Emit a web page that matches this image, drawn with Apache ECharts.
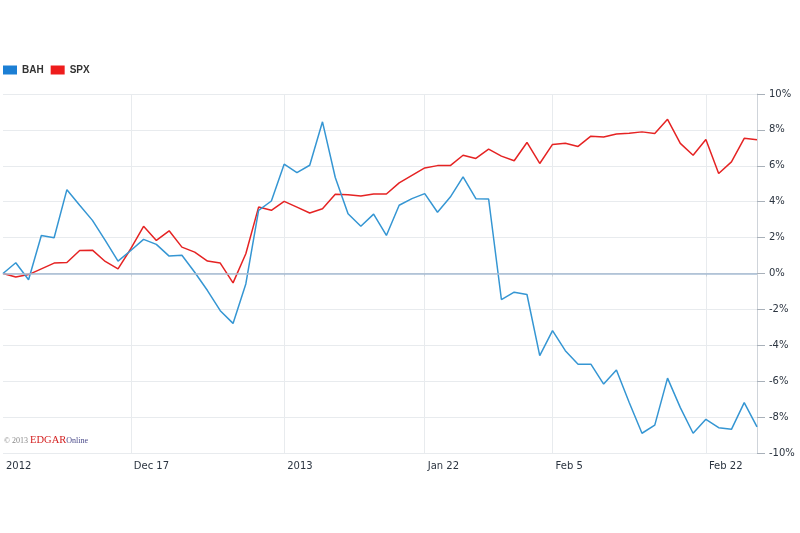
<!DOCTYPE html>
<html>
<head>
<meta charset="utf-8">
<script src="https://cdn.jsdelivr.net/npm/echarts@6/dist/echarts.min.js"></script>
<style>
html,body{margin:0;padding:0;background:#fff;}
#chart{width:800px;height:533px;}
</style>
</head>
<body>
<div id="chart"></div>
<script>
const dates = [
  'Dec 3','Dec 4','Dec 5','Dec 6','Dec 7','Dec 10','Dec 11','Dec 12','Dec 13','Dec 14',
  'Dec 17','Dec 18','Dec 19','Dec 20','Dec 21','Dec 24','Dec 26','Dec 27','Dec 28','Dec 31',
  'Jan 2','Jan 3','Jan 4','Jan 7','Jan 8','Jan 9','Jan 10','Jan 11','Jan 14','Jan 15',
  'Jan 16','Jan 17','Jan 18','Jan 22','Jan 23','Jan 24','Jan 25','Jan 28','Jan 29','Jan 30',
  'Jan 31','Feb 1','Feb 4','Feb 5','Feb 6','Feb 7','Feb 8','Feb 11','Feb 12','Feb 13',
  'Feb 14','Feb 15','Feb 19','Feb 20','Feb 21','Feb 22','Feb 25','Feb 26','Feb 27','Feb 28'
];
const bahValues = [
  0.0, 0.60, -0.35, 2.12, 1.99, 4.67, 3.80, 2.96, 1.84, 0.69,
  1.28, 1.90, 1.62, 0.97, 1.02, 0.07, -0.95, -2.07, -2.78, -0.58,
  3.52, 4.04, 6.09, 5.62, 6.03, 8.45, 5.35, 3.33, 2.63, 3.31,
  2.12, 3.80, 4.17, 4.45, 3.41, 4.26, 5.38, 4.17, 4.15, -1.45,
  -1.04, -1.17, -4.58, -3.18, -4.30, -5.05, -5.05, -6.16, -5.38, -7.19,
  -8.90, -8.45, -5.83, -7.47, -8.90, -8.12, -8.59, -8.68, -7.19, -8.55
];
const spxValues = [
  0.0, -0.20, -0.06, 0.26, 0.58, 0.61, 1.28, 1.30, 0.67, 0.26,
  1.38, 2.63, 1.84, 2.38, 1.47, 1.19, 0.69, 0.58, -0.52, 1.10,
  3.70, 3.52, 4.02, 3.70, 3.37, 3.61, 4.41, 4.39, 4.32, 4.43,
  4.43, 5.05, 5.47, 5.88, 6.01, 6.01, 6.59, 6.41, 6.93, 6.54,
  6.28, 7.30, 6.13, 7.19, 7.26, 7.08, 7.65, 7.60, 7.77, 7.82,
  7.89, 7.80, 8.59, 7.25, 6.59, 7.47, 5.57, 6.22, 7.53, 7.45
];
const tickIndex = [0, 10, 22, 33, 43, 55];
const tickText = ['2012', 'Dec 17', '2013', 'Jan 22', 'Feb 5', 'Feb 22'];
const yMin = -10, yMax = 10, yStep = 2;

const FONT = 'DejaVu Sans';
const chart = echarts.init(document.getElementById('chart'), null, {renderer: 'canvas'});
const isTick = i => tickIndex.indexOf(i) >= 0;

chart.setOption({
  animation: false,
  backgroundColor: '#ffffff',
  grid: {left: 3, right: 43, top: 94, bottom: 80, containLabel: false},
  legend: {
    left: 3, top: 65, padding: 0,
    itemWidth: 14, itemHeight: 9, itemGap: 7, icon: 'rect',
    textStyle: {fontFamily: 'Liberation Sans', fontWeight: 'bold', fontSize: 10, color: '#333'},
    data: [
      {name: 'BAH', itemStyle: {color: '#1c7fd4'}},
      {name: 'SPX', itemStyle: {color: '#ee1c1c'}}
    ]
  },
  xAxis: {
    type: 'category',
    data: dates,
    boundaryGap: false,
    axisLine: {show: true, lineStyle: {color: '#cfd4da', width: 1}},
    axisTick: {show: true, length: 3, interval: i => isTick(i) && i > 0, lineStyle: {color: '#cfd4da'}},
    axisLabel: {
      interval: i => isTick(i),
      formatter: (v, i) => tickText[tickIndex.indexOf(i)],
      align: 'left', padding: [0, 0, 0, 3], margin: 8,
      fontFamily: FONT, fontSize: 10, color: '#2b3440'
    },
    splitLine: {show: true, interval: i => isTick(i) && i > 0, lineStyle: {color: '#e8ebee', width: 1}}
  },
  yAxis: {
    type: 'value', position: 'right', min: yMin, max: yMax, interval: yStep,
    axisLine: {show: true, lineStyle: {color: '#cfd4da'}},
    axisTick: {show: true, length: 8, lineStyle: {color: '#a8b0b9'}},
    axisLabel: {show: true, margin: 12, formatter: v => v + '%', fontFamily: FONT, fontSize: 10, color: '#2b3440'},
    splitLine: {show: true, lineStyle: {color: '#e8ebee', width: 1}}
  },
  series: [
    {
      name: 'BAH', type: 'line', data: bahValues,
      symbol: 'none', lineStyle: {color: '#3596d3', width: 1.5},
      itemStyle: {color: '#3596d3'},
      markLine: {
        silent: true, symbol: 'none', label: {show: false},
        lineStyle: {color: '#a9bed4', width: 1.5, type: 'solid'},
        data: [{yAxis: 0}]
      },
      z: 3
    },
    {
      name: 'SPX', type: 'line', data: spxValues,
      symbol: 'none', lineStyle: {color: '#e52323', width: 1.5},
      itemStyle: {color: '#e52323'},
      z: 2
    }
  ],
  graphic: [{
    type: 'text', left: 4, top: 435,
    style: {
      text: '{a|© 2013 }{b|EDGAR}{c|Online}',
      rich: {
        a: {fontFamily: 'Liberation Serif', fontSize: 8, fill: '#888'},
        b: {fontFamily: 'Liberation Serif', fontSize: 10.5, fill: '#d42020'},
        c: {fontFamily: 'Liberation Serif', fontSize: 8, fill: '#4a4a8a'}
      }
    }
  }]
});
</script>
</body>
</html>
